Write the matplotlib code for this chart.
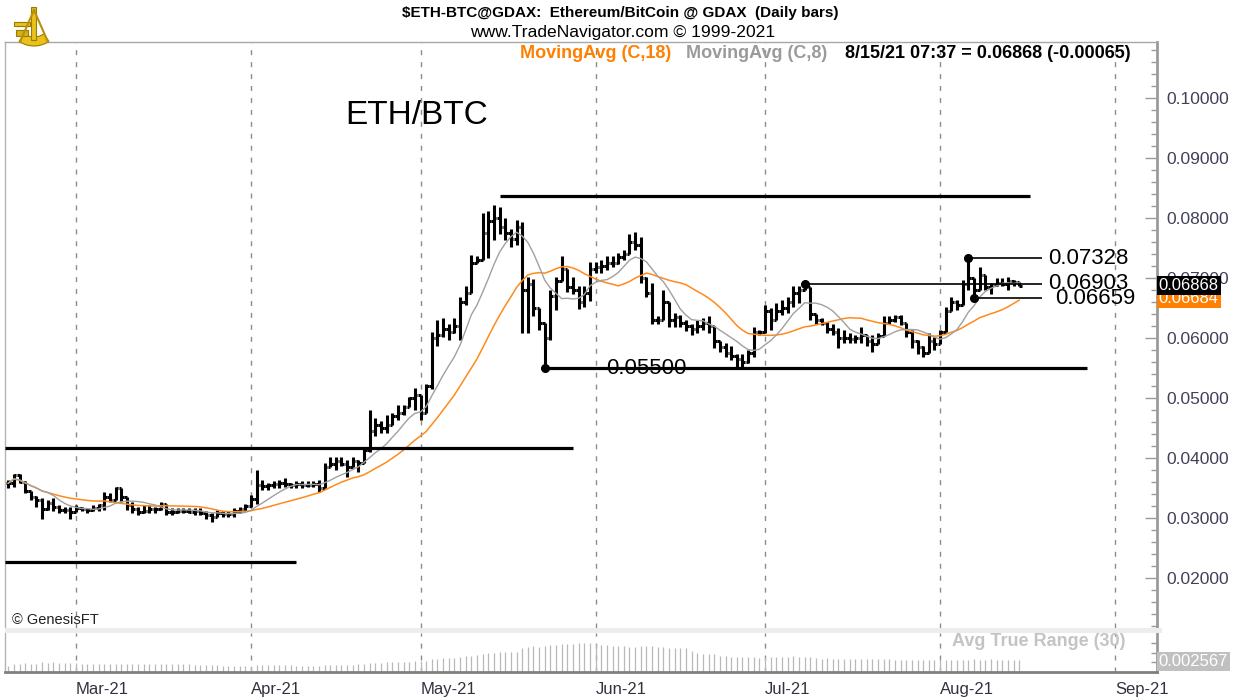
import numpy as np
import pandas as pd
import matplotlib
matplotlib.use("Agg")
import matplotlib.pyplot as plt
import matplotlib.dates as mdates
import matplotlib.transforms as mtrans
from matplotlib.collections import LineCollection
from matplotlib.patches import Rectangle, Wedge
from matplotlib.ticker import FormatStrFormatter, MultipleLocator

plt.rcParams['font.family'] = ['Liberation Sans', 'DejaVu Sans']

# ---- data (daily bars, prices in 1/1000 BTC) ----
start_date = "2021-02-17"
high_m = [36.3, 37.4, 37.4, 36.1, 34.4, 33.6, 33.3, 33.0, 33.3, 32.2,
          31.9, 31.9, 32.2, 31.9, 31.6, 32.2, 32.4, 34.4, 34.1, 35.2,
          34.9, 33.0, 32.7, 31.9, 32.2, 32.2, 31.9, 32.7, 32.2, 31.6,
          31.6, 31.6, 31.6, 31.6, 31.6, 31.1, 30.8, 31.3, 31.1, 31.1,
          31.6, 31.9, 32.4, 33.8, 38.0, 36.3, 35.8, 36.1, 36.3, 36.6,
          35.8, 36.1, 36.1, 36.1, 36.1, 36.3, 39.1, 40.2, 40.2, 40.2,
          39.7, 40.2, 39.7, 41.6, 48.0, 46.6, 46.1, 47.2, 47.5, 48.9,
          48.9, 50.2, 51.6, 49.7, 52.4, 61.0, 63.0, 63.3, 62.4, 63.3,
          66.9, 68.6, 73.8, 73.6, 80.8, 81.1, 82.2, 81.9, 80.0, 78.1,
          79.7, 79.4, 70.2, 69.9, 64.7, 62.4, 68.0, 70.2, 73.6, 71.3,
          70.2, 68.6, 68.6, 72.7, 72.7, 73.0, 73.6, 73.6, 74.1, 74.7,
          77.4, 77.7, 76.9, 70.2, 69.1, 63.6, 68.0, 65.2, 64.1, 63.8,
          63.0, 62.4, 63.0, 63.3, 63.6, 61.3, 59.4, 59.1, 58.6, 57.4,
          57.4, 58.0, 61.9, 61.3, 65.5, 65.0, 65.8, 66.3, 66.9, 68.6,
          68.6, 69.03, 68.0, 63.8, 63.3, 62.7, 62.4, 61.6, 61.3, 60.8,
          60.5, 61.9, 60.5, 60.5, 60.8, 63.6, 63.6, 63.8, 63.8, 62.2,
          61.3, 59.7, 58.6, 60.8, 60.2, 61.3, 65.2, 66.9, 66.3, 69.7,
          73.28, 69.1, 71.9, 69.1, 69.1, 70.0, 70.0, 70.2, 69.7, 69.4]
low_m = [35.0, 35.2, 35.8, 34.1, 33.0, 31.9, 29.9, 31.3, 31.1, 30.8,
         30.8, 29.9, 31.1, 31.1, 30.8, 31.1, 31.1, 31.3, 32.7, 33.3,
         32.7, 31.3, 30.8, 30.5, 30.8, 30.8, 30.8, 31.3, 30.5, 30.5,
         30.8, 30.8, 30.8, 30.5, 30.5, 29.9, 29.4, 30.2, 30.2, 30.2,
         30.2, 30.8, 31.1, 31.9, 32.4, 34.7, 34.7, 35.0, 35.0, 35.2,
         35.0, 35.0, 35.0, 35.2, 35.2, 34.4, 36.1, 38.6, 38.0, 38.6,
         36.9, 38.6, 37.7, 39.7, 41.0, 43.6, 44.1, 44.1, 46.4, 46.4,
         47.2, 48.9, 48.0, 46.4, 50.0, 51.5, 58.6, 60.2, 59.7, 60.8,
         59.7, 65.5, 68.8, 72.7, 74.4, 73.3, 76.3, 77.3, 76.3, 75.2,
         75.5, 60.8, 60.8, 63.6, 61.3, 55.0, 59.7, 64.7, 70.2, 67.7,
         67.4, 64.9, 65.2, 66.1, 70.8, 70.8, 71.3, 71.9, 72.4, 73.0,
         74.1, 74.7, 69.1, 66.9, 62.4, 62.4, 63.0, 61.9, 61.9, 61.9,
         61.1, 60.5, 60.8, 61.3, 60.8, 58.3, 57.7, 56.9, 56.3, 55.2,
         55.2, 55.8, 56.9, 60.5, 60.8, 61.3, 63.6, 63.8, 64.1, 65.2,
         65.8, 68.0, 63.0, 62.4, 62.2, 60.8, 60.5, 58.3, 59.1, 59.1,
         59.1, 59.1, 58.6, 57.7, 59.7, 61.3, 62.4, 62.7, 62.2, 60.2,
         58.3, 57.4, 56.9, 58.0, 58.0, 59.7, 61.9, 65.2, 64.7, 66.3,
         68.0, 66.59, 68.0, 68.0, 67.4, 68.6, 68.6, 68.0, 68.6, 68.6]
close_m = [35.8, 37.2, 36.0, 34.5, 33.5, 33.0, 31.5, 32.5, 31.8, 31.3,
           31.4, 31.0, 31.7, 31.5, 31.3, 31.6, 32.2, 33.5, 33.0, 35.0,
           33.5, 32.2, 31.5, 31.0, 31.2, 31.5, 31.5, 32.3, 31.0, 31.0,
           31.1, 31.2, 31.0, 31.1, 30.9, 30.5, 30.2, 30.8, 30.6, 30.7,
           31.2, 31.5, 32.0, 33.2, 35.5, 35.3, 35.5, 35.6, 35.9, 35.7,
           35.5, 35.6, 35.5, 35.5, 35.6, 35.0, 38.5, 39.0, 39.5, 39.0,
           38.5, 39.5, 39.2, 41.3, 44.5, 45.5, 45.0, 45.5, 47.0, 47.5,
           48.5, 50.0, 50.5, 47.5, 52.0, 60.0, 60.5, 61.5, 61.0, 62.0,
           66.0, 67.5, 72.5, 73.0, 77.5, 79.5, 80.0, 78.5, 77.5, 76.5,
           78.5, 68.0, 69.0, 65.0, 62.5, 60.0, 67.0, 69.5, 71.5, 68.5,
           68.0, 66.0, 67.5, 71.5, 71.8, 72.0, 72.5, 72.5, 73.5, 74.0,
           76.0, 75.5, 70.0, 67.5, 63.0, 63.0, 66.0, 63.0, 63.5, 62.5,
           62.0, 61.5, 62.0, 62.5, 62.0, 59.5, 58.5, 57.5, 57.0, 56.5,
           56.0, 57.5, 61.0, 61.0, 64.5, 63.0, 64.5, 65.0, 66.0, 67.5,
           68.0, 68.5, 64.0, 63.0, 62.5, 61.5, 61.0, 60.0, 60.0, 59.8,
           60.0, 60.5, 59.5, 59.0, 60.3, 62.5, 63.0, 63.5, 62.5, 61.0,
           59.5, 58.5, 57.5, 59.5, 59.0, 61.0, 64.5, 66.0, 65.5, 69.0,
           70.0, 68.0, 70.5, 68.5, 68.8, 69.2, 69.0, 69.5, 69.33, 68.68]

# horizontal levels drawn by the analyst: (price, from, to)
thick_levels = [(0.08367, "2021-05-15", "2021-08-17"),
                (0.04170, None, "2021-05-28"),
                (0.02270, None, "2021-04-09")]
marked_levels = [(0.05500, "2021-05-23", "2021-08-27"),
                 (0.06903, "2021-07-08", "2021-08-19"),
                 (0.07328, "2021-08-06", "2021-08-19"),
                 (0.06659, "2021-08-07", "2021-08-19")]

month_dates = ["2021-03-01", "2021-04-01", "2021-05-01", "2021-06-01",
               "2021-07-01", "2021-08-01", "2021-09-01"]
month_labels = ["Mar-21", "Apr-21", "May-21", "Jun-21", "Jul-21", "Aug-21", "Sep-21"]
price_ticks = [0.02, 0.03, 0.04, 0.05, 0.06, 0.07, 0.08, 0.09, 0.10]

last_close = 0.06868
last_change = -0.00065
ma18_last = 0.06684
atr_last = 0.002567

# ---- prepare ----
dates = pd.date_range(start_date, periods=len(close_m))
x = mdates.date2num(dates)
hi = np.array(high_m) / 1000
lo = np.array(low_m) / 1000
cl = np.array(close_m) / 1000
op = np.r_[cl[0], cl[:-1]]  # crypto bars open at previous close

s = pd.Series(cl)
ma18 = s.rolling(18, min_periods=1).mean()
ma8 = s.rolling(8, min_periods=1).mean()
prev = s.shift(1).fillna(s.iloc[0])
tr = np.maximum.reduce([hi - lo, np.abs(hi - prev), np.abs(lo - prev)])
atr = pd.Series(tr).rolling(30, min_periods=1).mean()

base = x[0]
xlim = (base - 0.57, base + 203.4)
W, H = 1237, 700

fig = plt.figure(figsize=(W / 100, H / 100), dpi=100)
ax = fig.add_axes([5 / W, 1 - 628 / H, 1152 / W, 586 / H])
ax2 = fig.add_axes([5 / W, 1 - 672 / H, 1152 / W, 39 / H])

# ---- price panel ----
segs = []
for xi, o, h, l, c in zip(x, op, hi, lo, cl):
    segs.append([(xi, min(l, o, c)), (xi, max(h, o, c))])
    segs.append([(xi - 0.45, o), (xi, o)])
    segs.append([(xi, c), (xi + 0.45, c)])
ax.add_collection(LineCollection(segs, colors='black', linewidths=2.2,
                                 capstyle='butt', zorder=2))
ax.plot(x, ma18, color='#ff8a1c', lw=1.1, zorder=3)
ax.plot(x, ma8, color='#a0a0a0', lw=1.0, zorder=3)

for lvl, d0, d1 in thick_levels:
    x0 = xlim[0] if d0 is None else mdates.datestr2num(d0)
    ax.plot([x0, mdates.datestr2num(d1)], [lvl, lvl], color='black', lw=2.3,
            solid_capstyle='butt', zorder=4)

label_anchor = [("start", 10.8), ("end", 1.2), ("end", 1.2), ("end", 2.4)]
for (lvl, d0, d1), (anc, dx) in zip(marked_levels, label_anchor):
    x0, x1 = mdates.datestr2num(d0), mdates.datestr2num(d1)
    lw = 2.3 if lvl == 0.055 else 1.2
    ax.plot([x0, x1], [lvl, lvl], color='black', lw=lw, solid_capstyle='butt', zorder=4)
    ax.plot([x0], [lvl], 'o', color='black', ms=5.5, zorder=5)
    tx = (x0 if anc == "start" else x1) + dx
    ax.text(tx, lvl, f"{lvl:.5f}", fontsize=16, ha='left', va='center',
            color='black', zorder=6)

for md in month_dates:
    for a in (ax, ax2):
        a.axvline(mdates.datestr2num(md), color='#8c8c8c', lw=1,
                  linestyle=(0, (3.6, 5)), zorder=1)

ax.set_xlim(*xlim)
ax.set_ylim(0.011667, 0.109333)
ax.set_xticks([])
ax.yaxis.tick_right()
ax.set_yticks(price_ticks)
ax.yaxis.set_major_formatter(FormatStrFormatter('%.5f'))
ax.yaxis.set_minor_locator(MultipleLocator(0.002))
ax.tick_params(axis='y', which='major', direction='in', length=9, width=1,
               color='#999999', pad=6.5, labelsize=12.5, labelcolor='#404058')
ax.tick_params(axis='y', which='minor', direction='in', length=4, width=1,
               color='#999999')
for side, col, lw in [('top', '#a8a8a8', 1), ('left', '#b4b4b4', 1),
                      ('right', '#9a9a9a', 2)]:
    ax.spines[side].set_color(col)
    ax.spines[side].set_linewidth(lw)
ax.spines['bottom'].set_visible(False)

ax.text(0.3576, 0.8754, "ETH/BTC", transform=ax.transAxes, fontsize=24,
        ha='center', va='center')
ax.text(0.006, 0.014, "© GenesisFT", transform=ax.transAxes, fontsize=10.5,
        ha='left', va='center', color='#222222')

blend = mtrans.blended_transform_factory(ax.transAxes, ax.transData)
ax.text(1.0015, ma18_last - 0.0002, f"{ma18_last:.5f}", transform=blend, fontsize=12,
        color='white', ha='left', va='center', clip_on=False, zorder=8,
        bbox=dict(boxstyle='square,pad=0.12', fc='#ff8000', ec='none'))
ax.text(1.0015, last_close, f"{last_close:.5f}", transform=blend, fontsize=12,
        color='white', ha='left', va='center', clip_on=False, zorder=9,
        bbox=dict(boxstyle='square,pad=0.12', fc='black', ec='none'))

# ---- ATR panel (autoscaled between the visible min and max, like the platform) ----
amin, amax = atr.min(), atr.max()
span = (amax - amin) * 39 / 23
lo_a = amin - span * 6 / 39
ax2.vlines(x, lo_a, atr, color='#b8b8b8', lw=0.9)
ax2.set_xlim(*xlim)
ax2.set_ylim(lo_a, lo_a + span * 1.0)
ax2.set_xticks(mdates.datestr2num(month_dates))
ax2.set_xticklabels(month_labels, ha='left')
ax2.tick_params(axis='x', length=0, pad=7, labelsize=12, labelcolor='#333340')
ax2.yaxis.tick_right()
ax2.set_yticks(np.linspace(lo_a, lo_a + span, 5)[1:-1])
ax2.set_yticklabels([])
ax2.tick_params(axis='y', direction='in', length=4, width=1, color='#999999')
for side, col, lw in [('left', '#b4b4b4', 1), ('right', '#9a9a9a', 2),
                      ('bottom', '#808080', 2)]:
    ax2.spines[side].set_color(col)
    ax2.spines[side].set_linewidth(lw)
ax2.spines['top'].set_visible(False)
ax2.text(0.822, 0.77, "Avg True Range (30)", transform=ax2.transAxes,
         fontsize=13, fontweight='bold', color='#c4c4c4', ha='left', va='center')
ax2.text(1.0015, 0.26, f"{atr_last:.6f}", transform=ax2.transAxes, fontsize=12,
         color='white', ha='left', va='center', clip_on=False, zorder=8,
         bbox=dict(boxstyle='square,pad=0.12', fc='#c0c0c0', ec='none'))

fig.add_artist(Rectangle((5 / W, 1 - 633 / H), 1157 / W, 5 / H,
                         transform=fig.transFigure, color='#ededed', lw=0))

# ---- logo (simple gold sextant) ----
logo = fig.add_axes([8 / W, 1 - 50 / H, 50 / W, 46 / H])
logo.set_xlim(0, 50)
logo.set_ylim(0, 46)
logo.axis('off')
logo.add_patch(Wedge((26, 30), 26, 235, 305, width=9, fc='#e8c21a', ec='#9c7a00', lw=0.8))
logo.add_patch(Rectangle((23, 10), 5, 33, fc='#e8c21a', ec='#9c7a00', lw=0.8))
logo.add_patch(Rectangle((6, 24), 16, 4, fc='#e8c21a', ec='#9c7a00', lw=0.8))
logo.add_patch(Rectangle((8, 14), 12, 6, fc='#d9b012', ec='#9c7a00', lw=0.8))
logo.plot([26, 12], [40, 8], color='#b8900a', lw=1.5)
logo.plot([26, 40], [40, 8], color='#b8900a', lw=1.5)

# ---- header ----
fig.text(620 / W, 1 - 13 / H, "$ETH-BTC@GDAX:  Ethereum/BitCoin @ GDAX  (Daily bars)",
         ha='center', va='center', fontsize=11, fontweight='bold')
fig.text(623 / W, 1 - 33 / H, "www.TradeNavigator.com © 1999-2021",
         ha='center', va='center', fontsize=12.6)
fig.text(520 / W, 1 - 54 / H, "MovingAvg (C,18)", ha='left', va='center',
         fontsize=13, fontweight='bold', color='#ff8000')
fig.text(686 / W, 1 - 54 / H, "MovingAvg (C,8)", ha='left', va='center',
         fontsize=13, fontweight='bold', color='#9a9a9a')
fig.text(845 / W, 1 - 54 / H, f"8/15/21 07:37 = {last_close:.5f} ({last_change:.5f})",
         ha='left', va='center', fontsize=13, fontweight='bold', color='black')

fig.savefig("out.png", dpi=100)
